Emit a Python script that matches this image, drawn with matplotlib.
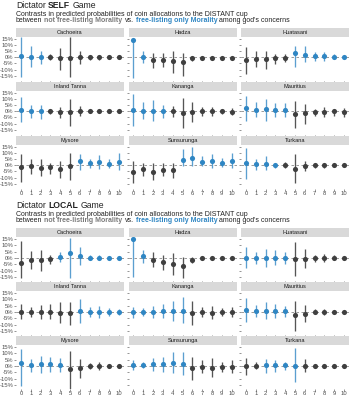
import matplotlib.pyplot as plt

plt.rcParams['font.family'] = ['Liberation Sans', 'DejaVu Sans']

W, H = 350, 395

sites = ['Cachoeira', 'Hadza', 'Huatasani', 'Inland Tanna', 'Kananga',
         'Mauritius', 'Mysore', 'Sunsurunga', 'Turkana']
x_vals = list(range(11))
ytick_vals = [15, 10, 5, 0, -5, -10, -15]
ytick_labels = ['15%', '10%', '5%', '0%', '-5%', '-10%', '-15%']

# ---- Dictator SELF game (values in %) ----
self_est = {
    'Cachoeira': [1.5, 0.5, 0.3, 0, -0.3, -0.5, 0, 0, 0, 0, 0],
    'Hadza': [14.4, 0, -2.2, -2.2, -3.3, -4.2, -0.8, -0.3, -0.3, -0.3, -0.3],
    'Huatasani': [-2.2, -1.4, -1.7, -0.8, -0.3, 3.6, 2, 0.8, 1.1, 0.5, 0.5],
    'Inland Tanna': [1.4, 0, 0, 0, -0.5, -0.8, 0, 0, 0, 0, 0],
    'Kananga': [1.4, 0.5, 0.5, 0.3, 0, -1.1, -0.3, 0, 0, 0, -0.3],
    'Mauritius': [2.5, 1.4, 2, 1.1, 1.1, -2.2, -1.7, -0.6, -0.8, 0, -0.5],
    'Mysore': [-1.4, -0.8, -2.5, -1.7, -3, -0.3, 3.3, 1.7, 2.5, 1.4, 2.5],
    'Sunsurunga': [-5.3, -3.3, -5.3, -3.6, -4.2, 4.2, 6.1, 2.8, 3.6, 1.7, 3.6],
    'Turkana': [2, 0.8, 1.1, 0.3, 0, -2.8, -0.8, 0, 0, 0, 0],
}
self_lo = {
    'Cachoeira': [-16, -8, -5.5, -2.5, -10, -16.5, -5.5, -2, -2, -1.5, -1.5],
    'Hadza': [-16.7, -5, -9, -7.8, -12.5, -15, -2.8, -1.5, -1, -1, -1],
    'Huatasani': [-14, -8.3, -9.7, -5.5, -4.2, -8.3, -4.2, -2.8, -2.8, -1.5, -1],
    'Inland Tanna': [-9, -5.5, -6.5, -2, -5.5, -12, -4.2, -1.5, -1.5, -1, -1],
    'Kananga': [-12, -6.4, -7.8, -5.8, -5, -14, -8.6, -3.5, -4, -2, -3],
    'Mauritius': [-7.8, -5, -7.8, -5, -5, -13.3, -10.5, -4.2, -5, -3.6, -5],
    'Mysore': [-13.6, -7, -9, -7, -10.3, -11.7, -4.2, -2, -3.3, -2.5, -4.2],
    'Sunsurunga': [-14.4, -8.9, -11.7, -8.9, -10.3, -0.5, -0.5, -0.5, -2, -1, -2],
    'Turkana': [-10.8, -4.2, -4.2, -2, -2.5, -14.4, -4.7, -2, -2, -1.5, -1.5],
}
self_hi = {
    'Cachoeira': [17, 9, 5.5, 2.5, 8, 16.5, 5.5, 2, 2, 1.5, 1.5],
    'Hadza': [15.5, 5, 4, 3.6, 5, 4, 0.8, 1, 0.5, 0.5, 0.5],
    'Huatasani': [8.3, 5, 5.5, 2.8, 2.8, 9.7, 9.7, 4.2, 4.2, 2.5, 2],
    'Inland Tanna': [12, 5.5, 5.5, 2, 3.3, 10, 4.7, 1.5, 1.5, 1, 1],
    'Kananga': [14.4, 7.5, 9.7, 5.3, 4.7, 11, 7.5, 3.5, 4, 2, 3],
    'Mauritius': [13, 7.5, 10, 6.7, 7, 8.3, 6, 2, 3.3, 2, 2.8],
    'Mysore': [9.2, 5, 5, 2.2, 3.6, 10.5, 9.2, 5.5, 8.6, 5.5, 10.5],
    'Sunsurunga': [3.6, 2.2, 2.2, 2.2, 2.2, 13.3, 14.7, 7.8, 9.7, 6.4, 10.5],
    'Turkana': [14, 5, 7.8, 2, 2.5, 9.7, 3.6, 2, 2, 1.5, 1.5],
}
self_blue = {
    'Cachoeira': [1, 1, 1, 0, 0, 0, 0, 0, 0, 0, 0],
    'Hadza': [1, 1, 0, 0, 0, 0, 0, 0, 0, 0, 0],
    'Huatasani': [0, 0, 0, 0, 0, 1, 1, 1, 1, 1, 1],
    'Inland Tanna': [1, 1, 1, 0, 0, 0, 0, 0, 0, 0, 0],
    'Kananga': [1, 1, 1, 1, 0, 0, 0, 0, 0, 0, 0],
    'Mauritius': [1, 1, 1, 1, 1, 0, 0, 0, 0, 0, 0],
    'Mysore': [0, 0, 0, 0, 0, 0, 1, 1, 1, 1, 1],
    'Sunsurunga': [0, 0, 0, 0, 0, 1, 1, 1, 1, 1, 1],
    'Turkana': [1, 1, 1, 1, 0, 0, 0, 0, 0, 0, 0],
}

# ---- Dictator LOCAL game (values in %) ----
local_est = {
    'Cachoeira': [-3.6, -1.3, -1.5, -0.5, 0.8, 4.1, 1.3, 0, 0, -0.3, 0],
    'Hadza': [15, 1.3, -1.3, -3.1, -4.9, -6.4, -1.3, 0, 0, 0, 0],
    'Huatasani': [0.3, 0, 0.3, 0.3, 0.3, -0.8, -0.5, 0, 0, 0, 0],
    'Inland Tanna': [0, 0, 0, 0, -0.5, -0.5, 0.5, 0.3, 0.3, 0.3, 0.3],
    'Kananga': [0, 0, 0.3, 0.5, 0.8, 1, -0.8, 0, -0.5, -0.3, -0.3],
    'Mauritius': [1.3, 0.8, 1, 0.8, 0.5, -2.6, -1.3, 0, 0, 0, 0],
    'Mysore': [2.3, 1, 1.5, 1.3, 1, -2.8, -1.3, -0.3, -0.3, 0, 0],
    'Sunsurunga': [0.5, 0.5, 1.3, 1.3, 2.3, 1.5, -2, -0.8, -1.3, -0.8, -0.8],
    'Turkana': [0, 0.3, 0.5, 0.5, 0.5, 0.3, 0.3, 0, 0, 0, 0],
}
local_lo = {
    'Cachoeira': [-16, -9, -10, -4.4, -3, -16, -5.6, -2, -2, -1.5, -1.5],
    'Hadza': [-15.4, -3.8, -6.9, -9.5, -13.3, -15.9, -3.8, -1.5, -1, -1, -1],
    'Huatasani': [-8.2, -4.4, -6.9, -5.6, -4.4, -14.6, -8.2, -3, -3, -2, -1.5],
    'Inland Tanna': [-5.9, -3.8, -5.4, -5.4, -8.5, -10.3, -9, -3.8, -4.6, -3, -2.6],
    'Kananga': [-4.4, -3, -4.6, -5.1, -7.2, -8.5, -10.3, -3.8, -5.9, -3.3, -4],
    'Mauritius': [-7.7, -3.8, -5.9, -4.6, -3.8, -15.4, -7.7, -2, -2.6, -1.5, -1.5],
    'Mysore': [-16, -4.6, -5.9, -4.6, -5.1, -20, -9.7, -2.8, -3.3, -1.5, -1.5],
    'Sunsurunga': [-3.3, -2, -4.1, -4.6, -5.9, -7.2, -11, -5.9, -8.5, -4.6, -5.9],
    'Turkana': [-7.2, -2.8, -5.9, -4.6, -3.3, -12.3, -4.6, -1.5, -1.5, -1.5, -1.5],
}
local_hi = {
    'Cachoeira': [13.5, 5.4, 6.4, 2.6, 4.6, 16, 8.5, 2, 2, 1.5, 1.5],
    'Hadza': [16, 5.9, 4.6, 2, 3.8, 0.8, 0.8, 1.5, 1, 1, 1],
    'Huatasani': [9, 4.6, 7.2, 5.9, 4.6, 12.3, 7.2, 2, 3.3, 2, 1.5],
    'Inland Tanna': [6.4, 3.8, 5.6, 5.9, 7.7, 7.7, 10.3, 3.8, 4.6, 3, 2.6],
    'Kananga': [3.8, 3, 4.6, 6.4, 9, 11.5, 9, 3.8, 5, 3.3, 4],
    'Mauritius': [10.8, 5.1, 7.7, 5.9, 4.6, 9, 5.6, 2, 2.6, 1.5, 1.5],
    'Mysore': [13.3, 5.6, 7.7, 6.9, 6.2, 11.5, 5.6, 2.3, 3, 1.5, 1.5],
    'Sunsurunga': [4.4, 3, 6.4, 7.4, 11.3, 10.8, 7.4, 4.4, 6.2, 3, 4.4],
    'Turkana': [6.4, 3, 5.6, 4.4, 3, 14, 5.6, 1.5, 1.5, 1.5, 1.5],
}
local_blue = {
    'Cachoeira': [0, 0, 0, 0, 1, 1, 1, 1, 1, 1, 1],
    'Hadza': [1, 1, 0, 0, 0, 0, 0, 0, 0, 0, 0],
    'Huatasani': [1, 1, 1, 1, 1, 0, 0, 0, 0, 0, 0],
    'Inland Tanna': [0, 0, 0, 0, 0, 0, 1, 1, 1, 1, 1],
    'Kananga': [1, 1, 1, 1, 1, 1, 0, 0, 0, 0, 0],
    'Mauritius': [1, 1, 1, 1, 1, 0, 0, 0, 0, 0, 0],
    'Mysore': [1, 1, 1, 1, 1, 0, 0, 0, 0, 0, 0],
    'Sunsurunga': [1, 1, 1, 1, 1, 1, 0, 0, 0, 0, 0],
    'Turkana': [0, 0, 1, 1, 1, 1, 0, 0, 0, 0, 0],
}

BLUE = '#2f86c3'
BLUE_LINE = '#5b9fd0'
GREY = '#3f3f3f'
GREY_LINE = '#555555'
TXT = '#222222'
MUTED = '#7a7a7a'

fig = plt.figure(figsize=(W / 100, H / 100), dpi=100)
renderer = fig.canvas.get_renderer()


def rich_line(x_px, y_px, parts, size):
    x = x_px
    for i, (txt, col, wt) in enumerate(parts):
        t = fig.text(x / W, 1 - y_px / H, txt, color=col, fontsize=size,
                     fontweight=wt, ha='left', va='center')
        x += t.get_window_extent(renderer=renderer).width
        if i < len(parts) - 1:
            a = fig.text(0, 0, 'x x', fontsize=size, fontweight=wt)
            b = fig.text(0, 0, 'xx', fontsize=size, fontweight=wt)
            x += (a.get_window_extent(renderer=renderer).width
                  - b.get_window_extent(renderer=renderer).width)
            a.remove()
            b.remove()


def draw_block(top, game, est, lo, hi, blue, ylim):
    rich_line(16, top + 5, [('Dictator', TXT, 'normal'), (game, TXT, 'bold'),
                            ('Game', TXT, 'normal')], 6.2)
    rich_line(16, top + 15, [('Contrasts in predicted probabilities of coin allocations to the DISTANT cup',
                              TXT, 'normal')], 5.0)
    rich_line(16, top + 20.8, [('between', TXT, 'normal'),
                               ('not free-listing Morality', MUTED, 'bold'),
                               ('vs.', TXT, 'normal'),
                               ('free-listing only Morality', BLUE, 'bold'),
                               ('among god\'s concerns', TXT, 'normal')], 5.0)
    lefts = [16, 128.5, 241]
    pw, sh, ph, pitch = 108, 9.3, 43.2, 54
    for k, site in enumerate(sites):
        r, c = divmod(k, 3)
        st = top + 28 + r * pitch
        # strip
        sax = fig.add_axes([lefts[c] / W, 1 - (st + sh) / H, pw / W, sh / H])
        sax.set_facecolor('#d9d9d9')
        sax.set_xticks([])
        sax.set_yticks([])
        for s in sax.spines.values():
            s.set_visible(False)
        sax.text(0.5, 0.5, site, ha='center', va='center', fontsize=4.1,
                 color='#1a1a1a', transform=sax.transAxes)
        # panel
        ax = fig.add_axes([lefts[c] / W, 1 - (st + sh + ph) / H, pw / W, ph / H])
        for s in ax.spines.values():
            s.set_visible(False)
        ax.axhline(0, color='#8a8a8a', lw=0.6, ls=(0, (3, 3)), zorder=1)
        for i in x_vals:
            col = BLUE if blue[site][i] else GREY
            lcol = BLUE_LINE if blue[site][i] else GREY_LINE
            ax.plot([i, i], [lo[site][i], hi[site][i]], color=lcol, lw=0.95,
                    solid_capstyle='butt', zorder=2)
            ax.plot(i, est[site][i], 'o', color=col, ms=3.7, mew=0, zorder=3)
        ax.set_xlim(-0.5, 10.5)
        ax.set_ylim(*ylim)
        ax.set_yticks(ytick_vals)
        ax.set_xticks(x_vals)
        ax.tick_params(length=1.2, width=0.4, color='#444444', pad=0.6,
                       labelsize=4.2, labelcolor='#4d4d4d')
        if c == 0:
            ax.set_yticklabels(ytick_labels)
        else:
            ax.set_yticklabels([])
        if r == 2:
            ax.set_xticklabels([str(v) for v in x_vals])
        else:
            ax.set_xticklabels([])


draw_block(0, 'SELF', self_est, self_lo, self_hi, self_blue, (-19, 16.5))
draw_block(200, 'LOCAL', local_est, local_lo, local_hi, local_blue, (-17.8, 16.3))

fig.savefig('out.png', dpi=100)
